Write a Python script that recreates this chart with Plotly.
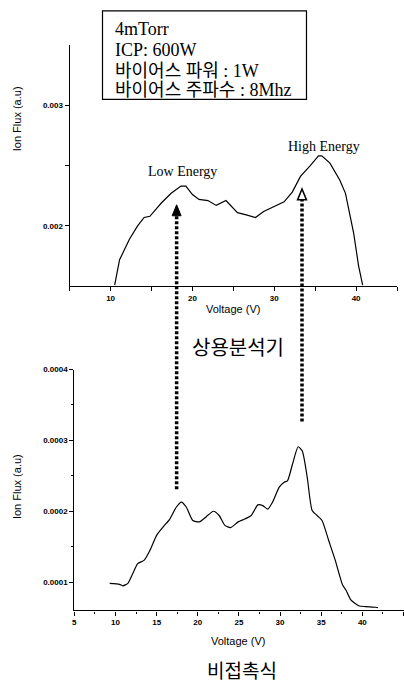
import plotly.graph_objects as go

W, H = 404, 683

# ---- data ----
top_voltage = [10.5, 11.1, 12.3, 13.3, 14.1, 14.8, 16.2, 17.4, 18.6, 19.2, 20.0, 20.8,
               21.9, 22.9, 24.1, 24.7, 25.5, 26.7, 27.7, 28.7, 29.9, 31.2, 32.2, 33.2,
               34.4, 35.4, 35.8, 36.8, 38.0, 38.7, 39.7, 40.3, 40.8]
top_flux = [0.00151, 0.00172, 0.00189, 0.00200, 0.00207, 0.00208, 0.00219, 0.00227,
            0.00233, 0.00233, 0.00226, 0.00222, 0.00221, 0.00217, 0.00221, 0.00217,
            0.00211, 0.00209, 0.00207, 0.00212, 0.00216, 0.00220, 0.00228, 0.00241,
            0.00250, 0.00258, 0.00258, 0.00252, 0.00238, 0.00227, 0.00194, 0.00167,
            0.00151]

bot_voltage = [9.3, 10.5, 10.9, 11.5, 12.1, 12.7, 13.5, 14.2, 15.0, 15.8, 16.6, 17.4,
               18.0, 18.6, 19.4, 20.2, 21.0, 21.9, 22.6, 23.3, 24.0, 24.9, 25.7, 26.5,
               27.3, 27.9, 28.5, 29.1, 29.9, 30.5, 30.9, 31.5, 32.2, 32.7, 33.3, 33.9,
               34.5, 35.1, 35.9, 36.7, 37.6, 38.0, 38.6, 39.6, 40.4, 41.6, 41.9]
bot_flux = [0.0000982, 0.0000968, 0.0000948, 0.0000982, 0.000112, 0.000126, 0.000131,
            0.000145, 0.000166, 0.000178, 0.000189, 0.000206, 0.000213, 0.000206,
            0.000187, 0.000185, 0.000192, 0.000200, 0.000194, 0.000180, 0.000177,
            0.000185, 0.000189, 0.000194, 0.000209, 0.000208, 0.000203, 0.000213,
            0.000234, 0.000241, 0.000243, 0.000266, 0.000291, 0.000285, 0.000248,
            0.000201, 0.000194, 0.000187, 0.000159, 0.000131, 0.0000958, 0.0000888,
            0.0000748, 0.0000663, 0.0000654, 0.0000645, 0.0000640]

top_xticks = [5, 10, 15, 20, 25, 30, 35, 40, 45]
top_xlabels = ["", "10", "", "20", "", "30", "", "40", ""]
top_yticks = [0.002, 0.0025, 0.003]
top_ylabels = ["0.002", "", "0.003"]
bot_xticks = [5, 10, 15, 20, 25, 30, 35, 40, 45]
bot_xlabels = ["5", "10", "15", "20", "25", "30", "35", "40", "45"]
bot_yticks = [0.0001, 0.0002, 0.0003, 0.0004]
bot_ylabels = ["0.0001", "0.0002", "0.0003", "0.0004"]

info_lines = ["4mTorr", "ICP: 600W", "바이어스 파워 : 1W", "바이어스 주파수 : 8Mhz"]
label_low = "Low Energy"
label_high = "High Energy"
caption_top = "상용분석기"
caption_bot = "비접촉식"
x_title = "Voltage (V)"
y_title = "Ion Flux (a.u)"


def px(x):
    return x / W


def py(y):
    return 1 - y / H


SANS = "Liberation Sans, Arial, sans-serif"
SERIF = "Liberation Serif, Noto Sans CJK KR, serif"
KR = "Noto Sans CJK KR, sans-serif"

fig = go.Figure()
fig.add_trace(go.Scatter(x=top_voltage, y=top_flux, mode="lines",
                         line=dict(color="black", width=1.2),
                         xaxis="x", yaxis="y", showlegend=False))
fig.add_trace(go.Scatter(x=bot_voltage, y=bot_flux, mode="lines",
                         line=dict(color="black", width=1.2, shape="spline", smoothing=0.6),
                         xaxis="x2", yaxis="y2", showlegend=False))

tickfont = dict(family=SANS, size=8, color="black", weight="bold")
axis_common = dict(showgrid=False, zeroline=False, showline=True, linecolor="black",
                   linewidth=1.2, ticks="outside", ticklen=4, tickwidth=1,
                   tickcolor="black", tickfont=tickfont, mirror=False, fixedrange=True)

fig.update_layout(
    width=W, height=H,
    margin=dict(l=0, r=0, t=0, b=0),
    paper_bgcolor="white", plot_bgcolor="white",
    xaxis=dict(domain=[px(68), px(397)], range=[5, 45], anchor="y",
               tickmode="array", tickvals=top_xticks, ticktext=top_xlabels, **axis_common),
    yaxis=dict(domain=[py(284), py(41)], range=[0.0015, 0.0035], anchor="x",
               tickmode="array", tickvals=top_yticks, ticktext=top_ylabels, **axis_common),
    xaxis2=dict(domain=[px(72.7), px(403.5)], range=[5, 45], anchor="y2",
                tickmode="array", tickvals=bot_xticks, ticktext=bot_xlabels,
                minor=dict(ticks="outside", ticklen=2, dtick=2.5, tickcolor="black"),
                **axis_common),
    yaxis2=dict(domain=[py(610), py(367.7)], range=[0.00006, 0.0004], anchor="x2",
                tickmode="array", tickvals=bot_yticks, ticktext=bot_ylabels,
                minor=dict(ticks="outside", ticklen=2, tickvals=[0.00015, 0.00025, 0.00035],
                           tickcolor="black"),
                **axis_common),
)

shapes = []
# info box
shapes.append(dict(type="rect", xref="paper", yref="paper",
                   x0=px(101), x1=px(306), y0=py(96), y1=py(7),
                   line=dict(color="black", width=1.2), fillcolor="white", layer="above"))
# dotted arrow shafts
shapes.append(dict(type="line", xref="paper", yref="paper",
                   x0=px(175.5), x1=px(175.5), y0=py(488), y1=py(212),
                   line=dict(color="black", width=3.5, dash="3px,2px")))
shapes.append(dict(type="line", xref="paper", yref="paper",
                   x0=px(301.5), x1=px(301.5), y0=py(420), y1=py(197),
                   line=dict(color="black", width=3.5, dash="3px,2px")))


def tri(cx, tip, base, half):
    return (f"M {px(cx)},{py(tip)} L {px(cx - half)},{py(base)} "
            f"L {px(cx + half)},{py(base)} Z")


shapes.append(dict(type="path", xref="paper", yref="paper", path=tri(175.5, 202, 213, 4.5),
                   fillcolor="black", line=dict(color="black", width=1)))
shapes.append(dict(type="path", xref="paper", yref="paper", path=tri(301.5, 186, 197, 4.5),
                   fillcolor="white", line=dict(color="black", width=1.5)))
fig.update_layout(shapes=shapes)

ann = []
for txt, yy in zip(info_lines, [25, 46, 67, 87]):
    ann.append(dict(text=txt, xref="paper", yref="paper", x=px(112), y=py(yy),
                    xanchor="left", yanchor="middle", showarrow=False,
                    font=dict(family=SERIF, size=18, color="black")))
ann.append(dict(text=label_low, xref="paper", yref="paper", x=px(181), y=py(168),
                xanchor="center", yanchor="middle", showarrow=False,
                font=dict(family=SERIF, size=14, color="black")))
ann.append(dict(text=label_high, xref="paper", yref="paper", x=px(324), y=py(143),
                xanchor="center", yanchor="middle", showarrow=False,
                font=dict(family=SERIF, size=14, color="black")))
ann.append(dict(text=caption_top, xref="paper", yref="paper", x=px(237), y=py(345),
                xanchor="center", yanchor="middle", showarrow=False,
                font=dict(family=KR, size=20, color="black")))
ann.append(dict(text=caption_bot, xref="paper", yref="paper", x=px(241), y=py(669),
                xanchor="center", yanchor="middle", showarrow=False,
                font=dict(family=KR, size=19, color="black")))
ann.append(dict(text=x_title, xref="paper", yref="paper", x=px(232), y=py(307),
                xanchor="center", yanchor="middle", showarrow=False,
                font=dict(family=SANS, size=11, color="black")))
ann.append(dict(text=x_title, xref="paper", yref="paper", x=px(237), y=py(641),
                xanchor="center", yanchor="middle", showarrow=False,
                font=dict(family=SANS, size=11, color="black")))
ann.append(dict(text=y_title, xref="paper", yref="paper", x=px(15), y=py(115),
                xanchor="center", yanchor="middle", showarrow=False, textangle=-90,
                font=dict(family=SANS, size=11, color="black")))
ann.append(dict(text=y_title, xref="paper", yref="paper", x=px(15), y=py(485),
                xanchor="center", yanchor="middle", showarrow=False, textangle=-90,
                font=dict(family=SANS, size=11, color="black")))
fig.update_layout(annotations=ann)

fig.write_html("out.html", config={"displayModeBar": False},
               post_script="document.body.style.margin='0';document.body.style.padding='0';")
